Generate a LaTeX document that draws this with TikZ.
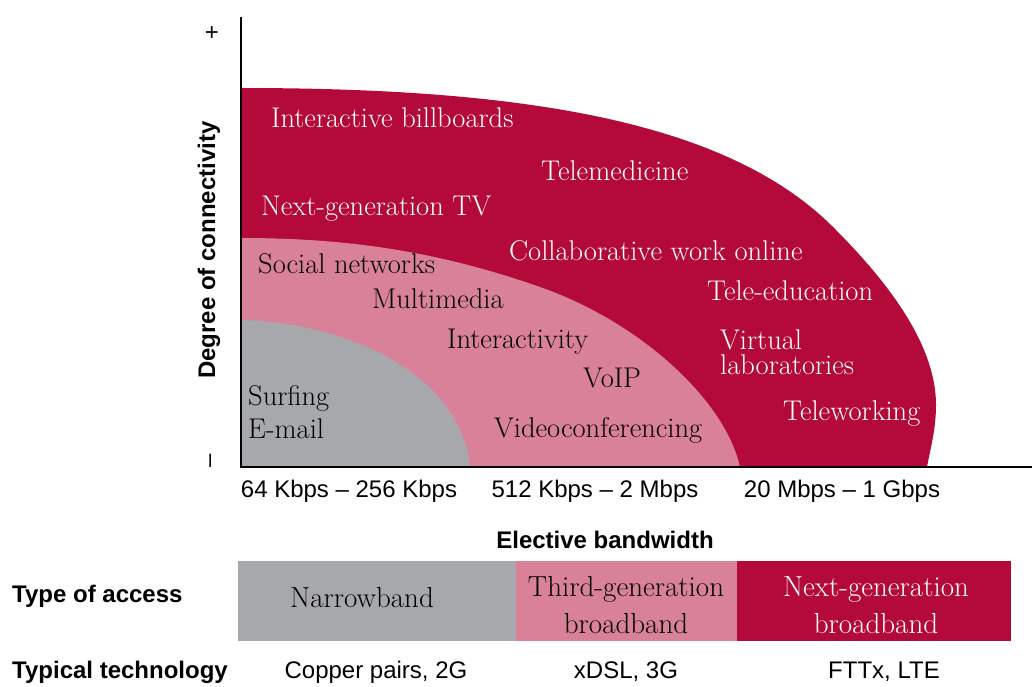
\documentclass[tikz,border=0pt]{standalone}
\usepackage{fontspec}
\newfontfamily\sansf{Liberation Sans}
\definecolor{ngred}{HTML}{B30A3A}
\definecolor{tgpink}{HTML}{D98199}
\definecolor{nbgray}{HTML}{A7A8AC}
\tikzset{
  serif/.style={font=\fontsize{28.5}{30}\selectfont, inner sep=0pt, anchor=base west},
  wlabel/.style={serif, text=white},
  blabel/.style={serif, text=black},
  sanslab/.style={font=\sansf\fontsize{24}{26}\selectfont, inner sep=0pt, anchor=base},
  sansbold/.style={font=\sansf\bfseries\fontsize{24}{26}\selectfont, inner sep=0pt},
  bandtext/.style={font=\fontsize{29}{37}\selectfont, align=center, inner sep=0pt}
}
\begin{document}
\begin{tikzpicture}[x=1pt,y=-1pt]
\useasboundingbox (0,0) rectangle (1032,687);
% regions
\fill[ngred] (241,88) .. controls (520,88) and (726,120) .. (833,227)
  .. controls (880,274) and (936,340) .. (936,405)
  .. controls (936,430) and (930,450) .. (927,467) -- (241,467) -- cycle;
\fill[tgpink] (241,238) .. controls (350,238) and (440,252) .. (540,287)
  .. controls (640,322) and (725,400) .. (740,467) -- (241,467) -- cycle;
\fill[nbgray] (241,320) .. controls (340,322) and (460,370) .. (470,467) -- (241,467) -- cycle;
% axes
\coordinate (ytop) at (241,17);
\coordinate (origin) at (241,467);
\coordinate (xend) at (1032,467);
\draw[line width=2.5pt] (ytop) -- (origin) -- (xend);
\node[sanslab, anchor=center] (plus) at (212,34) {+};
\node[sanslab, anchor=center, rotate=90] (minus) at (213,461) {–};
\node[sansbold, rotate=90] (ylab) at (209,250) {Degree of connectivity};
% labels in regions
\node[wlabel] (ib) at (271,128) {Interactive billboards};
\node[wlabel] (tm) at (541,180) {Telemedicine};
\node[wlabel] (ngtv) at (261,215) {Next-generation TV};
\node[wlabel] (cwo) at (509,260) {Collaborative work online};
\node[wlabel] (ted) at (707,300) {Tele-education};
\node[wlabel, anchor=north west, align=left, font=\fontsize{28.5}{25}\selectfont] (vl) at (720,330) {Virtual\\laboratories};
\node[wlabel] (tw) at (783,420) {Teleworking};
\node[blabel] (sn) at (258,273) {Social networks};
\node[blabel] (mm) at (372,308) {Multimedia};
\node[blabel] (ia) at (447,348) {Interactivity};
\node[blabel] (voip) at (583,387) {VoIP};
\node[blabel] (vc) at (494,437) {Videoconferencing};
\node[blabel, anchor=north west, align=left, font=\fontsize{28.5}{33}\selectfont] (sm) at (248,385) {Surfing\\E-mail};
% x axis labels
\node[sanslab] (bw1) at (349,497) {64 Kbps – 256 Kbps};
\node[sanslab] (bw2) at (595,497) {512 Kbps – 2 Mbps};
\node[sanslab] (bw3) at (842,497) {20 Mbps – 1 Gbps};
\node[sansbold, anchor=base] (xlab) at (605,548) {Elective bandwidth};
% bands
\fill[nbgray] (238,561) rectangle (516,641);
\fill[tgpink] (516,561) rectangle (737,641);
\fill[ngred] (737,561) rectangle (1011,641);
\node[sansbold, anchor=base west] (toa) at (12,602) {Type of access};
\node[sansbold, anchor=base west] (tt) at (12,678) {Typical technology};
\node[bandtext, text=black] (nb) at (362,598) {Narrowband};
\node[bandtext, text=black] (tg) at (626,605) {Third-generation\\broadband};
\node[bandtext, text=white] (ng) at (876,605) {Next-generation\\broadband};
\node[sanslab] (t1) at (376,678) {Copper pairs, 2G};
\node[sanslab] (t2) at (626,678) {xDSL, 3G};
\node[sanslab] (t3) at (884,678) {FTTx, LTE};
\end{tikzpicture}
\end{document}
